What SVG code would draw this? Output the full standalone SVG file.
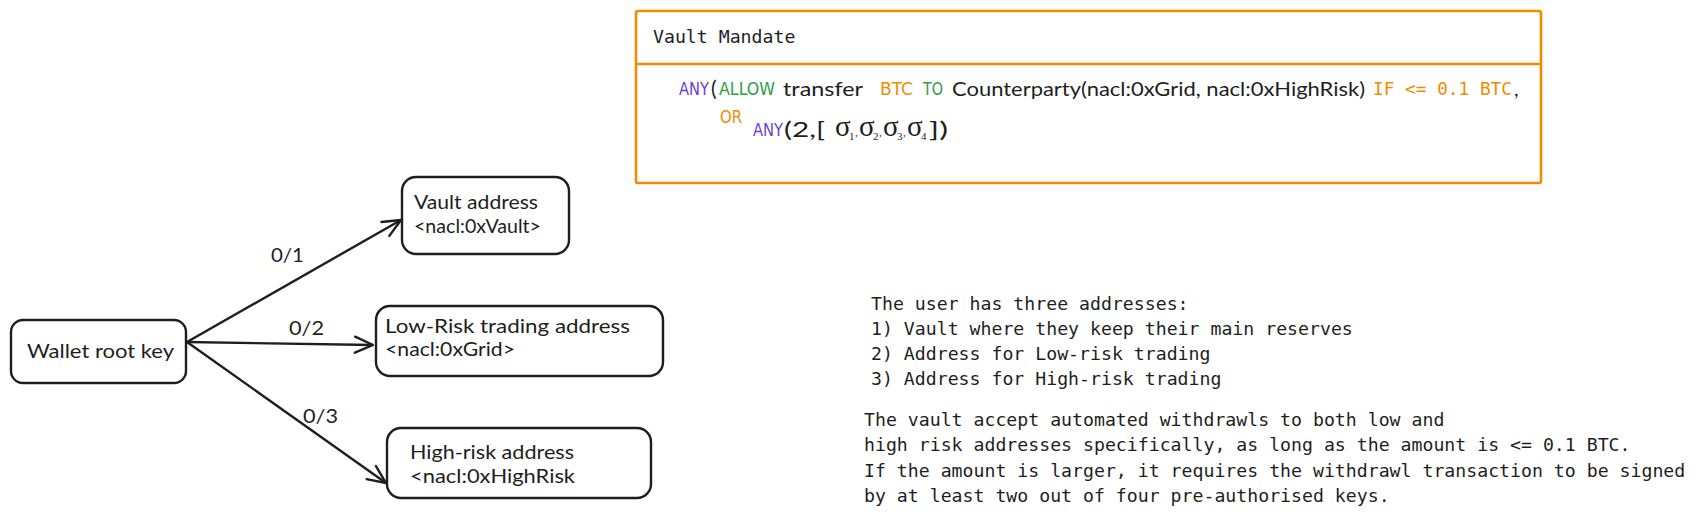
<svg xmlns="http://www.w3.org/2000/svg" width="1698" height="518" viewBox="0 0 1698 518">
<style>
.box{fill:#fff;stroke:#1e1e1e;stroke-width:2.4}
.mbox{fill:#fff;stroke:#f08c00;stroke-width:2.6}
.hand{font-family:"Lato","Open Sans",sans-serif;font-size:20px;fill:#1e1e1e}
.mono{font-family:"DejaVu Sans Mono","Liberation Mono",monospace;font-size:18.2px;fill:#1e1e1e}
.narrow{font-family:"DejaVu Sans Condensed","Liberation Sans",sans-serif;font-size:17px}
.purple{fill:#6741d9}
.green{fill:#2f9e44}
.orange{fill:#f08c00}
.sig{font-family:"Liberation Serif",serif;font-size:29px;fill:#1e1e1e}
.sub{font-family:"Liberation Serif",serif;font-size:11px;fill:#1e1e1e}
.conn{stroke:#1e1e1e;stroke-width:2.4;fill:none}
</style>
<defs>
<marker id="arr" markerUnits="userSpaceOnUse" viewBox="0 0 22 22" markerWidth="22" markerHeight="22" refX="20" refY="11" orient="auto">
<path d="M2,3 L20,11 L2,19" fill="none" stroke="#1e1e1e" stroke-width="2.4" stroke-linecap="round" stroke-linejoin="round"/>
</marker>
</defs>
<rect width="1698" height="518" fill="#fff"/>

<g id="mandate">
<rect class="mbox" x="636" y="11" width="905" height="172" rx="2"/>
<line x1="636" y1="64" x2="1541" y2="64" stroke="#f08c00" stroke-width="2.6"/>
<text class="mono" x="653" y="43">Vault Mandate</text>
<text class="narrow purple" x="679" y="95" textLength="30" lengthAdjust="spacingAndGlyphs">ANY</text>
<text class="hand" x="711" y="96" style="font-size:21px">(</text>
<text class="narrow green" x="719" y="95" textLength="56" lengthAdjust="spacingAndGlyphs">ALLOW</text>
<text class="hand" x="783" y="96" textLength="80" lengthAdjust="spacingAndGlyphs">transfer</text>
<text class="narrow orange" x="880" y="95" textLength="33" lengthAdjust="spacingAndGlyphs">BTC</text>
<text class="narrow green" x="923" y="95" textLength="20" lengthAdjust="spacingAndGlyphs">TO</text>
<text class="hand" x="952" y="96" textLength="413" lengthAdjust="spacingAndGlyphs">Counterparty(nacl:0xGrid, nacl:0xHighRisk)</text>
<text class="mono orange" x="1373" y="95" style="font-size:18px" textLength="139" lengthAdjust="spacingAndGlyphs">IF &lt;= 0.1 BTC</text>
<text class="hand" x="1514" y="96">,</text>
<text class="narrow orange" x="720" y="123" textLength="22" lengthAdjust="spacingAndGlyphs">OR</text>
<text class="narrow purple" x="753" y="136" textLength="30" lengthAdjust="spacingAndGlyphs">ANY</text>
<text class="hand" x="784" y="137" style="font-size:21px" textLength="41" lengthAdjust="spacingAndGlyphs">(2,[</text>
<text class="sig" x="835" y="136">σ</text><text class="sub" x="849" y="140">1</text><text class="sub" x="855" y="136">,</text>
<text class="sig" x="859" y="136">σ</text><text class="sub" x="873" y="140">2</text><text class="sub" x="879" y="136">,</text>
<text class="sig" x="883" y="136">σ</text><text class="sub" x="897" y="140">3</text><text class="sub" x="903" y="136">,</text>
<text class="sig" x="907" y="136">σ</text><text class="sub" x="921" y="140">4</text>
<text class="hand" x="929" y="137" style="font-size:21px" textLength="19" lengthAdjust="spacingAndGlyphs">])</text>
</g>

<g id="wallet">
<rect class="box" x="11" y="320" width="175" height="63" rx="12"/>
<text class="hand" x="27" y="358" textLength="147" lengthAdjust="spacingAndGlyphs">Wallet root key</text>
</g>

<g id="vault">
<rect class="box" x="402" y="177" width="167" height="77" rx="14"/>
<text class="hand" x="414" y="209" textLength="124" lengthAdjust="spacingAndGlyphs">Vault address</text>
<text class="hand" x="414" y="233" textLength="127" lengthAdjust="spacingAndGlyphs">&lt;nacl:0xVault&gt;</text>
</g>

<g id="lowrisk">
<rect class="box" x="376" y="306" width="287" height="70" rx="14"/>
<text class="hand" x="385" y="333" textLength="245" lengthAdjust="spacingAndGlyphs">Low-Risk trading address</text>
<text class="hand" x="385" y="356" textLength="130" lengthAdjust="spacingAndGlyphs">&lt;nacl:0xGrid&gt;</text>
</g>

<g id="highrisk">
<rect class="box" x="387" y="428" width="264" height="70" rx="14"/>
<text class="hand" x="410" y="459" textLength="164" lengthAdjust="spacingAndGlyphs">High-risk address</text>
<text class="hand" x="410" y="483" textLength="165" lengthAdjust="spacingAndGlyphs">&lt;nacl:0xHighRisk</text>
</g>

<g id="connectors">
<line class="conn" x1="187" y1="342" x2="401" y2="220" marker-end="url(#arr)"/>
<line class="conn" x1="187" y1="342" x2="373" y2="345" marker-end="url(#arr)"/>
<line class="conn" x1="187" y1="342" x2="386" y2="483" marker-end="url(#arr)"/>
<text class="hand" x="271" y="262" textLength="33" lengthAdjust="spacingAndGlyphs">0/1</text>
<text class="hand" x="289" y="335" textLength="35" lengthAdjust="spacingAndGlyphs">0/2</text>
<text class="hand" x="303" y="423" textLength="35" lengthAdjust="spacingAndGlyphs">0/3</text>
</g>

<g id="notes">
<text class="mono" x="871" y="310">The user has three addresses:</text>
<text class="mono" x="871" y="335">1) Vault where they keep their main reserves</text>
<text class="mono" x="871" y="360">2) Address for Low-risk trading</text>
<text class="mono" x="871" y="385">3) Address for High-risk trading</text>
<text class="mono" x="864" y="426">The vault accept automated withdrawls to both low and</text>
<text class="mono" x="864" y="451">high risk addresses specifically, as long as the amount is &lt;= 0.1 BTC.</text>
<text class="mono" x="864" y="477">If the amount is larger, it requires the withdrawl transaction to be signed</text>
<text class="mono" x="864" y="502">by at least two out of four pre-authorised keys.</text>
</g>
</svg>
